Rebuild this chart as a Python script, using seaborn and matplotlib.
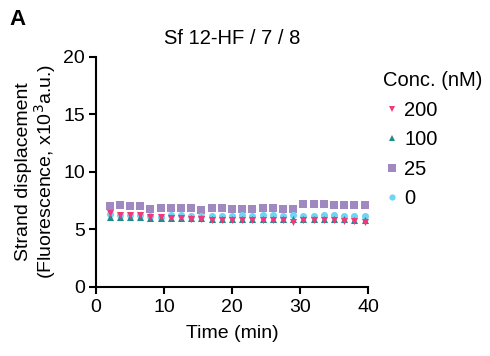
import matplotlib
matplotlib.use("Agg")
import matplotlib.pyplot as plt
import seaborn as sns
import pandas as pd
from matplotlib.lines import Line2D

sns.set_style("ticks")
plt.rcParams['font.family'] = ['Liberation Sans', 'DejaVu Sans']
plt.rcParams['text.color'] = 'black'
plt.rcParams['axes.labelcolor'] = 'black'

time_min = [2, 3.5, 5, 6.5, 8, 9.5, 11, 12.5, 14, 15.5, 17, 18.5, 20, 21.5,
            23, 24.5, 26, 27.5, 29, 30.5, 32, 33.5, 35, 36.5, 38, 39.5]
conc_200 = [6.40, 6.28, 6.22, 6.22, 6.10, 6.10, 5.98, 5.98, 5.93, 5.90, 5.82, 5.86, 5.86,
            5.82, 5.80, 5.82, 5.82, 5.80, 5.66, 5.86, 5.86, 5.80, 5.80, 5.70, 5.75, 5.64]
conc_100 = [6.10, 6.06, 6.06, 6.06, 6.00, 6.00, 6.00, 6.00, 5.98, 5.98, 5.95, 5.95, 5.95,
            5.92, 5.92, 5.90, 5.95, 5.92, 5.92, 5.90, 5.90, 5.88, 5.88, 5.88, 5.85, 5.85]
conc_25 = [7.04, 7.10, 7.00, 7.00, 6.78, 6.84, 6.84, 6.84, 6.84, 6.67, 6.84, 6.84, 6.75,
           6.75, 6.75, 6.84, 6.84, 6.75, 6.75, 7.20, 7.20, 7.20, 7.10, 7.10, 7.10, 7.10]
conc_0 = [6.32, 6.26, 6.22, 6.26, 6.14, 6.09, 6.26, 6.26, 6.20, 6.14, 6.14, 6.20, 6.20,
          6.22, 6.20, 6.22, 6.26, 6.20, 6.26, 6.14, 6.20, 6.26, 6.26, 6.17, 6.20, 6.20]

series_labels = ["200", "100", "25", "0"]
colors = {"200": "#F0387A", "100": "#1E8C8C", "25": "#A088C0", "0": "#70D4F5"}
markers = {"200": "v", "100": "^", "25": "s", "0": "o"}
sizes = {"200": 26, "100": 26, "25": 34, "0": 26}

frames = []
for lab, vals in zip(series_labels, [conc_200, conc_100, conc_25, conc_0]):
    frames.append(pd.DataFrame({"time": time_min, "value": vals, "conc": lab}))
df = pd.concat(frames, ignore_index=True)

fig = plt.figure(figsize=(4.9, 3.56), dpi=100)
ax = fig.add_axes([0.196, 0.194, 0.555, 0.646])

draw_order = ["25", "0", "100", "200"]
for lab in draw_order:
    sub = df[df["conc"] == lab]
    sns.scatterplot(data=sub, x="time", y="value", ax=ax, color=colors[lab],
                    marker=markers[lab], s=sizes[lab], linewidth=0, legend=False)

ax.set_xlim(0, 40)
ax.set_ylim(0, 20)
ax.set_xticks([0, 10, 20, 30, 40])
ax.set_yticks([0, 5, 10, 15, 20])
for s in ["top", "right"]:
    ax.spines[s].set_visible(False)
for s in ["left", "bottom"]:
    ax.spines[s].set_linewidth(1.5)
    ax.spines[s].set_color("black")
ax.tick_params(axis="both", length=5, width=1.5, labelsize=14, colors="black", pad=3)
ax.tick_params(axis="x", pad=4)
ax.set_xlabel("Time (min)", fontsize=14, labelpad=6)
ax.set_ylabel("Strand displacement\n(Fluorescence, x10$^3$a.u.)", fontsize=14,
              labelpad=4, linespacing=1.0)
ax.set_title("Sf 12-HF / 7 / 8", fontsize=14.5, pad=9, color="black")

handles = [Line2D([0], [0], marker=markers[l], color="none", markerfacecolor=colors[l],
                  markeredgewidth=0, markersize=4.5 if l != "25" else 5.5, label=l)
           for l in series_labels]
leg = fig.legend(handles=handles, title="Conc. (nM)", loc="upper left",
                 bbox_to_anchor=(0.765, 0.822), frameon=False, fontsize=14.5,
                 title_fontsize=14.5, handlelength=0.9, handletextpad=0.15,
                 labelspacing=0.52, borderaxespad=0)
leg._legend_box.align = "left"
for t in leg.get_texts():
    t.set_color("black")
leg.get_title().set_color("black")

fig.text(0.02, 0.93, "A", fontsize=16, fontweight="bold", color="black")

fig.savefig("out.png", dpi=100)
